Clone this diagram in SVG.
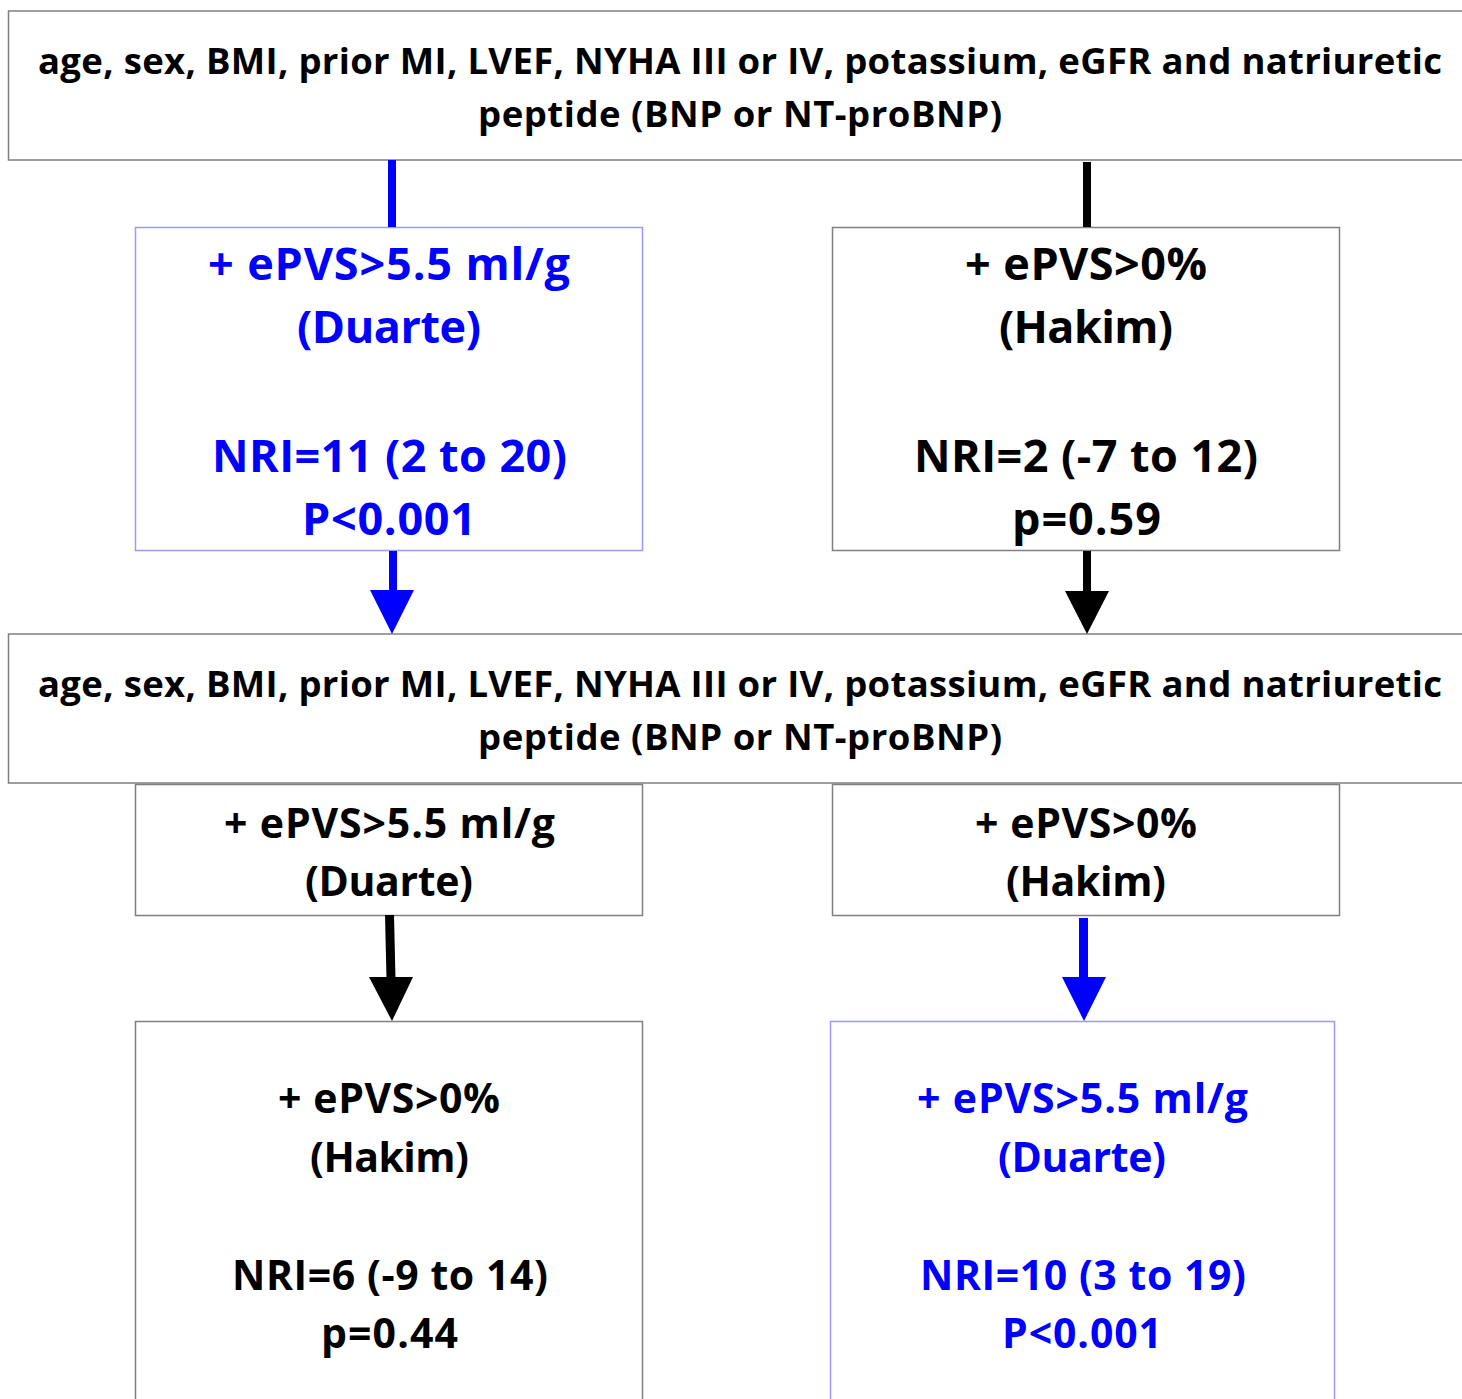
<svg xmlns="http://www.w3.org/2000/svg" width="1462" height="1399" viewBox="0 0 1462 1399">
<style>
.t{font-family:"Open Sans",Lato,"Liberation Sans",sans-serif;font-weight:bold;text-anchor:middle;fill:#000}
.b{fill:#0000ff}
.big{font-size:45px}
.mid{font-size:41px}
.wide{font-size:36.5px}
.gbox{fill:#fff;stroke:#7f7f7f;stroke-width:1.5}
.bbox{fill:#fff;stroke:#9999ff;stroke-width:1.5}
</style>
<rect width="1462" height="1399" fill="#fff"/>
<g id="top">
<path class="gbox" d="M1462,11 H8.5 V160 H1462"/>
<text class="t wide" x="740" y="74" textLength="1404">age, sex, BMI, prior MI, LVEF, NYHA III or IV, potassium, eGFR and natriuretic</text>
<text class="t wide" x="740" y="127" textLength="524">peptide (BNP or NT-proBNP)</text>
</g>
<g id="duarte1">
<rect class="bbox" x="135.5" y="227.5" width="507" height="323"/>
<text class="t big b" x="389" y="280" textLength="362">+ ePVS&gt;5.5 ml/g</text>
<text class="t big b" x="389" y="343" textLength="184">(Duarte)</text>
<text class="t big b" x="389.5" y="472" textLength="355">NRI=11 (2 to 20)</text>
<text class="t big b" x="389" y="535" textLength="174">P&lt;0.001</text>
</g>
<g id="hakim1">
<rect class="gbox" x="832.5" y="227.5" width="507" height="323"/>
<text class="t big" x="1086" y="280" textLength="242">+ ePVS&gt;0%</text>
<text class="t big" x="1086" y="343" textLength="174">(Hakim)</text>
<text class="t big" x="1086" y="472" textLength="344">NRI=2 (-7 to 12)</text>
<text class="t big" x="1086.5" y="535" textLength="149">p=0.59</text>
</g>
<g id="middle">
<path class="gbox" d="M1462,634 H8.5 V783 H1462"/>
<text class="t wide" x="740" y="697" textLength="1404">age, sex, BMI, prior MI, LVEF, NYHA III or IV, potassium, eGFR and natriuretic</text>
<text class="t wide" x="740" y="750" textLength="524">peptide (BNP or NT-proBNP)</text>
</g>
<g id="duarte2">
<rect class="gbox" x="135.5" y="784.5" width="507" height="131"/>
<text class="t mid" x="389.5" y="838" textLength="331">+ ePVS&gt;5.5 ml/g</text>
<text class="t mid" x="389" y="896" textLength="168">(Duarte)</text>
</g>
<g id="hakim2">
<rect class="gbox" x="832.5" y="784.5" width="507" height="131"/>
<text class="t mid" x="1086" y="838" textLength="222">+ ePVS&gt;0%</text>
<text class="t mid" x="1086" y="896" textLength="160">(Hakim)</text>
</g>
<g id="hakim3">
<path class="gbox" d="M135.5,1400 V1021.5 H642.5 V1400"/>
<text class="t mid" x="389" y="1113" textLength="222">+ ePVS&gt;0%</text>
<text class="t mid" x="389.5" y="1172" textLength="159">(Hakim)</text>
<text class="t mid" x="390" y="1290" textLength="316">NRI=6 (-9 to 14)</text>
<text class="t mid" x="389.5" y="1348" textLength="137">p=0.44</text>
</g>
<g id="duarte3">
<path class="bbox" d="M830.5,1400 V1021.5 H1334.5 V1400"/>
<text class="t mid b" x="1082.5" y="1113" textLength="331">+ ePVS&gt;5.5 ml/g</text>
<text class="t mid b" x="1082" y="1172" textLength="168">(Duarte)</text>
<text class="t mid b" x="1083" y="1290" textLength="326">NRI=10 (3 to 19)</text>
<text class="t mid b" x="1082" y="1348" textLength="160">P&lt;0.001</text>
</g>
<g id="connectors">
<line x1="392" y1="160" x2="392" y2="227" stroke="#0000ff" stroke-width="8"/>
<line x1="1087" y1="162" x2="1087" y2="227" stroke="#000" stroke-width="8"/>
<line x1="393" y1="551" x2="393" y2="592" stroke="#0000ff" stroke-width="8"/>
<polygon points="370,590 414,590 392,634" fill="#0000ff"/>
<line x1="1087" y1="551" x2="1087" y2="593" stroke="#000" stroke-width="8"/>
<polygon points="1065,591 1109,591 1087,634" fill="#000"/>
<line x1="389.5" y1="915" x2="391" y2="979" stroke="#000" stroke-width="9"/>
<polygon points="369,977 413,977 392,1021" fill="#000"/>
<line x1="1083.5" y1="918" x2="1083.5" y2="979" stroke="#0000ff" stroke-width="9"/>
<polygon points="1062,977 1106,977 1084,1021" fill="#0000ff"/>
</g>
</svg>
